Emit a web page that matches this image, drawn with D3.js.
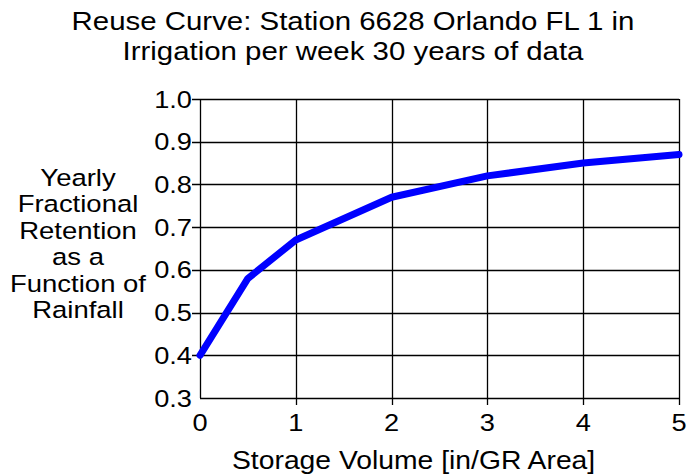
<!DOCTYPE html>
<html>
<head>
<meta charset="utf-8">
<script src="https://cdn.jsdelivr.net/npm/d3@7/dist/d3.min.js"></script>
<style>
  body { margin: 0; background: #fff; }
  text { font-family: "Liberation Sans", Arial, sans-serif; fill: #000; }
</style>
</head>
<body>
<script>
// data
var storage = [0, 0.5, 1, 2, 3, 4, 5];
var retention = [0.40, 0.58, 0.67, 0.77, 0.82, 0.85, 0.87];
var xTicks = [0, 1, 2, 3, 4, 5];
var yTicks = [0.3, 0.4, 0.5, 0.6, 0.7, 0.8, 0.9, 1.0];
var titleLines = ['Reuse Curve: Station 6628 Orlando FL 1 in', 'Irrigation per week 30 years of data'];
var yLabelLines = ['Yearly', 'Fractional', 'Retention', 'as a', 'Function of', 'Rainfall'];
var xLabel = 'Storage Volume [in/GR Area]';

var width = 688;
var height = 475;
var plot = { left: 200, right: 679, top: 99, bottom: 398 };
// the original font is a bit wider than Liberation Sans
var stretch = 1.11;

var svg = d3.select('body').append('svg').attr('width', width).attr('height', height);

var x = d3.scaleLinear().domain([0, 5]).range([plot.left, plot.right]);
var y = d3.scaleLinear().domain([0.3, 1.0]).range([plot.bottom, plot.top]);

function place(px, py) {
    return 'translate(' + px + ',' + py + ') scale(' + stretch + ',1)';
}

// horizontal grid + left ticks
svg.append('g')
    .selectAll('line')
    .data(yTicks)
    .enter()
    .append('line')
    .attr('x1', function (d) { return d === 0.3 ? plot.left : plot.left - 8; })
    .attr('x2', plot.right)
    .attr('y1', function (d) { return Math.round(y(d)) + 0.5; })
    .attr('y2', function (d) { return Math.round(y(d)) + 0.5; })
    .attr('stroke', '#000')
    .attr('stroke-width', 1.3);

// vertical grid + bottom ticks
svg.append('g')
    .selectAll('line')
    .data(xTicks)
    .enter()
    .append('line')
    .attr('x1', function (d) { return Math.round(x(d)) + 0.5; })
    .attr('x2', function (d) { return Math.round(x(d)) + 0.5; })
    .attr('y1', plot.top)
    .attr('y2', function (d) { return d === 0 ? plot.bottom : plot.bottom + 7; })
    .attr('stroke', '#000')
    .attr('stroke-width', 1.3);

// y tick labels
svg.append('g')
    .selectAll('text')
    .data(yTicks)
    .enter()
    .append('text')
    .attr('transform', function (d) { return place(192, y(d) + 8.5); })
    .attr('text-anchor', 'end')
    .style('font-size', '24.5px')
    .text(function (d) { return d3.format('.1f')(d); });

// x tick labels
svg.append('g')
    .selectAll('text')
    .data(xTicks)
    .enter()
    .append('text')
    .attr('transform', function (d) { return place(x(d), 431); })
    .attr('text-anchor', 'middle')
    .style('font-size', '24.5px')
    .text(function (d) { return d; });

// the curve
var line = d3.line()
    .x(function (d, i) { return x(storage[i]); })
    .y(function (d) { return y(d); });

svg.append('path')
    .datum(retention)
    .attr('d', line)
    .attr('fill', 'none')
    .attr('stroke', '#0000ff')
    .attr('stroke-width', 7)
    .attr('stroke-linejoin', 'round')
    .attr('stroke-linecap', 'round');

// title
svg.append('g')
    .selectAll('text')
    .data(titleLines)
    .enter()
    .append('text')
    .attr('transform', function (d, i) { return place(353, 30 + i * 30); })
    .attr('text-anchor', 'middle')
    .style('font-size', '26.5px')
    .text(function (d) { return d; });

// y axis label: lines are packed tight, so a slightly smaller font stretched sideways
svg.append('g')
    .selectAll('text')
    .data(yLabelLines)
    .enter()
    .append('text')
    .attr('transform', function (d, i) {
        return 'translate(78,' + (186 + i * 26.4) + ') scale(1.17,1)';
    })
    .attr('text-anchor', 'middle')
    .style('font-size', '23.5px')
    .text(function (d) { return d; });

// x axis label
svg.append('text')
    .attr('transform', place(232, 469))
    .attr('text-anchor', 'start')
    .style('font-size', '25.5px')
    .text(xLabel);
</script>
</body>
</html>
